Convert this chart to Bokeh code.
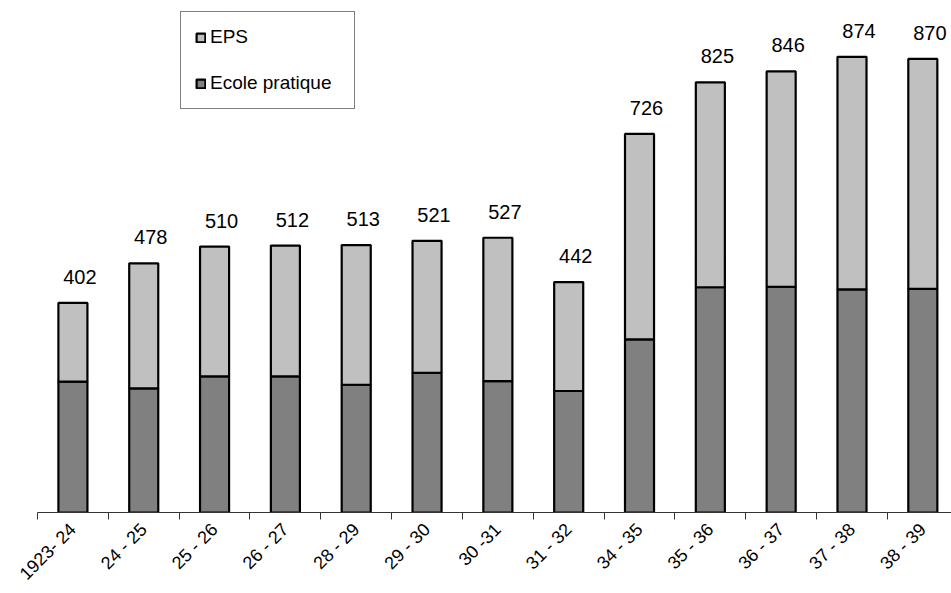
import math
from bokeh.plotting import figure
from bokeh.models import Range1d, FixedTicker, Legend, LegendItem, ColumnDataSource
from bokeh.embed import file_html
from bokeh.resources import INLINE
from bokeh.core.properties import value

# ---- data ----
periods = ["1923- 24", "24 - 25", "25 - 26", "26 - 27", "28 - 29", "29 - 30",
           "30 -31", "31 - 32", "34 - 35", "35 - 36", "36 - 37", "37 - 38", "38 - 39"]
totals = [402, 478, 510, 512, 513, 521, 527, 442, 726, 825, 846, 874, 870]
ecole_pratique = [251, 238, 261, 261, 245, 268, 252, 233, 332, 432, 433, 428, 429]
eps = [151, 240, 249, 251, 268, 253, 275, 209, 394, 393, 413, 446, 441]

FONT = "Liberation Sans"
positions = list(range(1, len(periods) + 1))

src = ColumnDataSource(dict(
    x=positions,
    ecole=ecole_pratique,
    eps=eps,
    total=totals,
    label=[str(t) for t in totals],
))

p = figure(width=951, height=593, output_backend="svg", toolbar_location=None,
           x_range=Range1d(0.5, 0.5 + 12.905), y_range=Range1d(0, 982),
           min_border_left=37, min_border_right=0, min_border_top=0, min_border_bottom=0)

rs = p.vbar_stack(["ecole", "eps"], x="x", width=0.41, source=src,
                  fill_color=["#808080", "#C0C0C0"], line_color="black", line_width=2.2)

p.text(x="x", y="total", text="label", source=src, x_offset=7, y_offset=-26,
       text_align="center", text_baseline="alphabetic",
       text_font=value(FONT), text_font_size="20px", text_color="black")

legend = Legend(items=[LegendItem(label="EPS", renderers=[rs[1]]),
                       LegendItem(label="Ecole pratique", renderers=[rs[0]])],
                location=(143, 403), margin=0, padding=14, spacing=24,
                glyph_width=11, glyph_height=11, label_standoff=4, label_width=130,
                label_height=18,
                label_text_font=FONT, label_text_font_size="19px", label_text_color="black",
                border_line_color="black", border_line_width=1,
                background_fill_color="white", background_fill_alpha=1)
p.add_layout(legend, "center")

ax = p.xaxis[0]
ax.ticker = FixedTicker(ticks=positions, minor_ticks=[i + 0.5 for i in range(0, len(periods) + 1)])
ax.major_label_overrides = {pos: lab for pos, lab in zip(positions, periods)}
ax.major_label_orientation = math.pi / 4
ax.major_label_standoff = 7
ax.major_label_text_font = FONT
ax.major_label_text_font_size = "18px"
ax.major_label_text_color = "black"
ax.major_tick_out = 0
ax.major_tick_in = 0
ax.minor_tick_out = 7
ax.minor_tick_in = 0
ax.minor_tick_line_color = "#333333"
ax.axis_line_color = "#333333"
ax.axis_line_width = 1

p.yaxis.visible = False
p.xgrid.visible = False
p.ygrid.visible = False
p.outline_line_color = None

open("out.html", "w").write(file_html(p, INLINE))
